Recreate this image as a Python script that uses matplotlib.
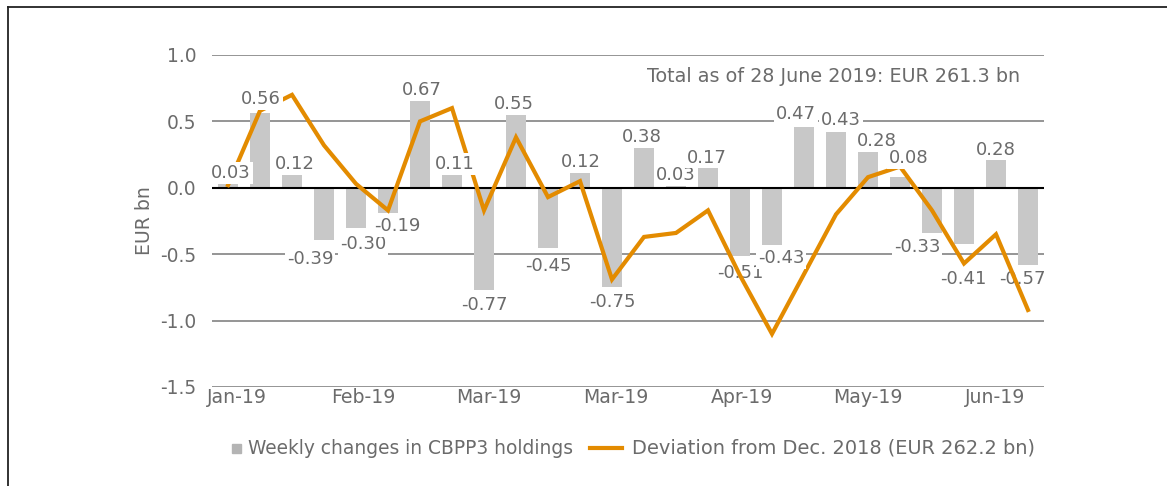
import matplotlib.pyplot as plt
from matplotlib.lines import Line2D
from matplotlib.patches import Rectangle
import numpy as np

plt.switch_backend('Agg')

# --- DATA ---
weeks = np.arange(26)
bar_values = [0.03, 0.56, 0.12, -0.39, -0.30, -0.19, 0.67, 0.11, -0.77, 0.55,
              -0.45, 0.12, -0.75, 0.32, 0.03, 0.16, -0.51, -0.43, 0.46, 0.42,
              0.27, 0.08, -0.34, -0.42, 0.22, -0.58]
bar_labels = ["0.03", "0.56", "0.12", "-0.39", "-0.30", "-0.19", "0.67", "0.11",
              "-0.77", "0.55", "-0.45", "0.12", "-0.75", "0.38", "0.03", "0.17",
              "-0.51", "-0.43", "0.47", "0.43", "0.28", "0.08", "-0.33", "-0.41",
              "0.28", "-0.57"]
deviation = [0.02, 0.58, 0.70, 0.32, 0.03, -0.17, 0.50, 0.60, -0.17, 0.38,
             -0.07, 0.05, -0.69, -0.37, -0.34, -0.17, -0.66, -1.10, -0.65, -0.20,
             0.08, 0.16, -0.17, -0.57, -0.35, -0.92]
month_ticks = [0.28, 4.22, 8.16, 12.13, 16.06, 20.0, 23.97]
month_labels = ["Jan-19", "Feb-19", "Mar-19", "Mar-19", "Apr-19", "May-19", "Jun-19"]
yticks = [-1.5, -1.0, -0.5, 0.0, 0.5, 1.0]

# label nudges (pixels): horizontal shift and gap to the bar end
label_dx = [3, 1, 3, -14, 7, 9, 2, 3, 0, -2, 0, 1, 0, -2, 0, -1, 0, 9, -8, 5, 9, 9, -15, -1, 0, -6]
label_gap = [6, 9, 3, 11, 8, 5, 4, 4, 7, 6, 10, 5, 6, 3, 4, 4, 9, 5, 8, 7, 6, 14, 6, 27, 4, 6]
under_line = [16, 25]

BAR_C = '#C8C8C8'
LINE_C = '#E38B00'
TXT_C = '#6B6B6B'
GRID_C = '#8C8C8C'
FS = 13
W, H = 1167, 486

fig = plt.figure(figsize=(W / 100, H / 100), dpi=100)
ax = fig.add_axes([212 / W, 1 - 387 / H, 832 / W, 332 / H])

ax.bar(weeks, bar_values, width=0.63, color=BAR_C, zorder=2)
ax.plot(weeks, deviation, color=LINE_C, lw=3, zorder=3, solid_joinstyle='miter')

digit_h = FS * 100 / 72 * 0.729
for i, (x, v, lab) in enumerate(zip(weeks, bar_values, bar_labels)):
    if v >= 0:
        dy = label_gap[i]
    else:
        dy = -(label_gap[i] + digit_h)
    ax.annotate(lab, (x, v), xytext=(label_dx[i], dy), textcoords='offset pixels',
                ha='center', va='baseline', fontsize=FS, color=TXT_C,
                zorder=2.8 if i in under_line else 5,
                bbox=dict(boxstyle='square,pad=0.1', fc='white', ec='none'))

# grid lines
for y in yticks:
    if y == 0:
        ax.axhline(y, color='black', lw=1.5, zorder=2.5)
    else:
        ax.axhline(y, color=GRID_C, lw=1.3, zorder=1)

ax.set_xlim(-0.5, 25.5)
ax.set_ylim(-1.5, 1.0)
ax.set_yticks(yticks)
ax.set_yticklabels([f"{y:.1f}" for y in yticks])
ax.set_xticks(month_ticks)
ax.set_xticklabels(month_labels, fontsize=13.6)
ax.tick_params(axis='both', length=0, colors=TXT_C)
ax.tick_params(axis='y', pad=11, labelsize=13.4)
ax.tick_params(axis='x', pad=1)
for s in ax.spines.values():
    s.set_visible(False)
ax.set_ylabel("EUR bn", fontsize=13.6, color=TXT_C, labelpad=5)

ax.text(0.971, 0.934, "Total as of 28 June 2019: EUR 261.3 bn", transform=ax.transAxes,
        ha='right', va='center', fontsize=13.8, color=TXT_C)

# legend drawn by hand so the marker sits close to its text
ly = 1 - 448 / H
fig.add_artist(Rectangle((232 / W, ly - 4.5 / H), 9 / W, 9 / H, color='#B4B4B4',
                         transform=fig.transFigure))
fig.text(248 / W, ly, "Weekly changes in CBPP3 holdings", ha='left', va='center',
         fontsize=13.4, color=TXT_C)
fig.add_artist(Line2D([590 / W, 622 / W], [ly, ly], color=LINE_C, lw=3,
                      transform=fig.transFigure))
fig.text(632 / W, ly, "Deviation from Dec. 2018 (EUR 262.2 bn)", ha='left', va='center',
         fontsize=13.95, color=TXT_C)

# outer frame (top and left edges)
fig.add_artist(Line2D([7.5 / W, 1], [1 - 7.5 / H, 1 - 7.5 / H], color='#222222', lw=1.3,
                      transform=fig.transFigure))
fig.add_artist(Line2D([7.5 / W, 7.5 / W], [0, 1 - 7.5 / H], color='#222222', lw=1.3,
                      transform=fig.transFigure))

fig.savefig('out.png', dpi=100)
